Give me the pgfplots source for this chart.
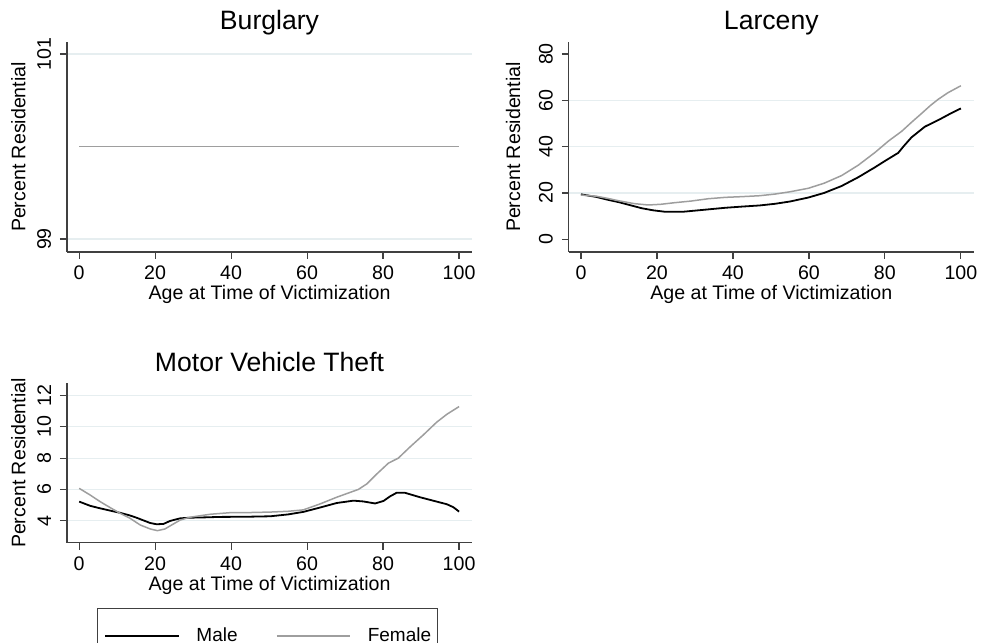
\documentclass[border=0pt]{standalone}
\usepackage{fontspec}
\setmainfont{Liberation Sans}
\usepackage{pgfplots}
\pgfplotsset{compat=1.18}
\definecolor{gridc}{RGB}{230,238,240}
\definecolor{fem}{RGB}{158,158,158}
\pgfplotsset{
 stata/.style={
  scale only axis,
  width=202.5pt,
  axis x line*=bottom, axis y line*=left,
  axis line style={-, draw=black!75, line width=0.7pt},
  tick align=outside,
  major tick length=3.5pt,
  tick style={draw=black!75, line width=0.6pt},
  xmin=-3.2, xmax=103.4,
  xtick={0,20,...,100},
  /pgf/number format/assume math mode=true,
  ticklabel style={font=\fontsize{9.8}{11}\selectfont},
  yticklabel style={rotate=90, anchor=south, inner sep=4.3pt},
  label style={font=\fontsize{9.8}{11}\selectfont},
  xlabel style={yshift=4pt},
  ylabel shift=-2pt,
  xlabel={Age at Time of Victimization},
  ylabel={Percent Residential},
  title style={font=\fontsize{13.3}{15}\selectfont, at={(0.5,1)}, anchor=base},
  grid style={draw=gridc, line width=0.6pt},
  ymajorgrids,
  every axis plot/.append style={no markers},
  legend image code/.code={\draw[#1] (0pt,0pt) -- (36.7pt,0pt);},
 },
 male/.style={black, line width=0.9pt},
 female/.style={fem, line width=0.75pt},
}
\begin{document}
\begin{tikzpicture}
\useasboundingbox (0,0) rectangle (491pt,321.5pt);
% Burglary
\begin{axis}[stata, at={(33.5pt,195.5pt)}, anchor=south west, height=105pt,
  ymin=98.86, ymax=101.13, ytick={99,101}, title={Burglary}]
\addplot[male] coordinates {(0,100) (100,100)};
\addplot[female] coordinates {(0,100) (100,100)};
\end{axis}
% Larceny
\begin{axis}[stata, at={(284.4pt,195.5pt)}, anchor=south west, height=105pt,
  ymin=-5.5, ymax=85.2, ytick={0,20,...,80}, ymajorgrids=false,
  extra y ticks={20,40,60}, extra y tick labels={},
  extra y tick style={grid=major, major tick length=0pt},
  title={Larceny}]
\addplot[male] coordinates {
(0,19.4) (4,18.3) (7.2,17.0) (10,16.0) (13,14.7) (16,13.4) (19,12.5) (22,11.9)
(27,11.9) (33.5,12.9) (38,13.6) (42.3,14.1) (47,14.6) (51,15.3) (55,16.3)
(59.8,18.0) (64,20.0) (68.6,23.0) (73,26.8) (77.4,31.1) (80,33.8) (83.5,37.3)
(85,40.3) (87,44.0) (90.5,48.6) (94.9,52.2) (97.5,54.5) (100,56.5)};
\addplot[female] coordinates {
(0,19.1) (4,18.6) (7.2,17.6) (10,16.6) (14,15.4) (17.7,14.8) (21,15.1) (24.7,15.8)
(29,16.5) (33.5,17.5) (38,18.1) (42.3,18.4) (47,18.8) (51,19.5) (55,20.5)
(59.8,22.0) (64,24.2) (68.6,27.5) (73,32.0) (77.4,37.5) (81,42.5) (84.4,46.6)
(87,50.5) (89.7,54.4) (92,57.8) (94,60.4) (96.6,63.3) (100,66.3)};
\end{axis}
% Motor Vehicle Theft
\begin{axis}[stata, at={(33.5pt,50.15pt)}, anchor=south west, height=79.7pt,
  ymin=2.59, ymax=12.79, ytick={4,6,...,12}, title={Motor Vehicle Theft},
  legend columns=2,
  legend style={at={(0.0748,-0.408)}, anchor=north west, draw=black!75, line width=0.6pt,
    font=\fontsize{9.5}{11}\selectfont, inner xsep=3.3pt, inner ysep=9.6pt,
    nodes={inner sep=0pt},
    /tikz/column 1/.style={column sep=8.4pt},
    /tikz/column 2/.style={column sep=19.2pt},
    /tikz/column 3/.style={column sep=8.4pt},
    /tikz/column 4/.style={column sep=2pt}}]
\addplot[male] coordinates {
(0,5.22) (2.9,4.95) (5,4.82) (8.2,4.64) (10.8,4.50) (13.4,4.33) (15.2,4.18) (17,4.01)
(18.7,3.85) (20.4,3.77) (22.2,3.79) (23.9,3.98) (26.6,4.15) (29.2,4.19) (33,4.21)
(37.1,4.24) (44,4.25) (50.3,4.28) (55,4.40) (59,4.56) (63.4,4.84) (67.8,5.13)
(72.2,5.28) (74.8,5.23) (77.9,5.10) (80.1,5.26) (81.8,5.55) (83.6,5.79) (85.8,5.78)
(89.7,5.50) (94.1,5.22) (96.8,5.05) (98.5,4.86) (100,4.58)};
\addlegendentry{Male}
\addplot[female] coordinates {
(0,6.07) (2.9,5.64) (5.5,5.22) (8.2,4.83) (10.8,4.47) (13.4,4.15) (16.1,3.72) (18.7,3.47)
(20.6,3.36) (22.6,3.47) (23.9,3.66) (26.6,4.04) (29.2,4.22) (34.5,4.41) (39.7,4.51)
(45,4.52) (50.3,4.55) (55,4.60) (59,4.69) (63.4,5.07) (67.8,5.50) (73.5,6.00)
(75.7,6.35) (78.4,7.00) (81.4,7.68) (84,8.00) (87.1,8.72) (90.6,9.49) (94.1,10.30)
(96.8,10.81) (100,11.30)};
\addlegendentry{Female}
\end{axis}
\end{tikzpicture}
\end{document}
